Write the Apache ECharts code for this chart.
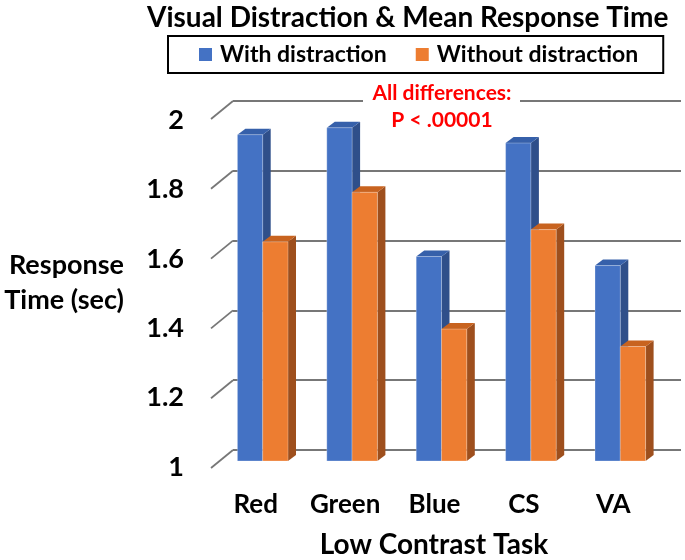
<!DOCTYPE html>
<html>
<head>
<meta charset="utf-8">
<script src="https://cdn.jsdelivr.net/npm/echarts@6/dist/echarts.min.js"></script>
<style>
  html, body { margin: 0; padding: 0; background: #fff; }
  #chart { width: 685px; height: 560px; }
</style>
</head>
<body>
<div id="chart"></div>
<script>
var categories = ["Red", "Green", "Blue", "CS", "VA"];
var withDistraction = [1.935, 1.955, 1.586, 1.911, 1.56];
var withoutDistraction = [1.628, 1.77, 1.378, 1.663, 1.328];
var yTicks = [1, 1.2, 1.4, 1.6, 1.8, 2];

var FONT = "Lato";
var Y_MIN = 1, Y_MAX = 2;
// fake 3d depth of the bars and of the wall
var BAR_DX = 8, BAR_DY = 6;
var WALL_DX = -22, WALL_DY = 18;

var colors = {
  with: { front: "#4472C4", side: "#2F4F8A", top: "#3660AA" },
  without: { front: "#ED7D31", side: "#9E4F1D", top: "#C8631F" }
};

function barRender(left, c) {
  return function (params, api) {
    var cat = api.value(0);
    var top = api.coord([cat, api.value(1)]);
    var base = api.coord([cat, Y_MIN]);
    var w = api.size([1, 0])[0] * 0.283;
    var x0 = left ? top[0] - w : top[0];
    var x1 = x0 + w;
    return {
      type: "group",
      children: [
        { type: "polygon", shape: { points: [[x1, top[1]], [x1 + BAR_DX, top[1] - BAR_DY], [x1 + BAR_DX, base[1] - BAR_DY], [x1, base[1]]] }, style: { fill: c.side } },
        { type: "polygon", shape: { points: [[x0, top[1]], [x0 + BAR_DX, top[1] - BAR_DY], [x1 + BAR_DX, top[1] - BAR_DY], [x1, top[1]]] }, style: { fill: c.top } },
        { type: "rect", shape: { x: x0, y: top[1], width: w, height: base[1] - top[1] }, style: { fill: c.front, stroke: "rgba(255,255,255,0.35)", lineWidth: 0.8 } }
      ]
    };
  };
}

function labelStyle(text, size, align) {
  return {
    text: text, align: align, verticalAlign: "middle",
    fontFamily: FONT, fontWeight: "bold", fontSize: size, fill: "#000"
  };
}

var chart = echarts.init(document.getElementById("chart"));

var option = {
  animation: false,
  textStyle: { fontFamily: FONT },
  title: {
    text: "Visual Distraction & Mean Response Time",
    left: 142, top: -1,
    textStyle: { fontFamily: FONT, fontWeight: "bold", fontSize: 28, color: "#000" }
  },
  legend: {
    left: 168, top: 36,
    padding: [7, 25, 7, 31],
    borderColor: "#000", borderWidth: 2,
    itemWidth: 13, itemHeight: 13, itemGap: 29,
    icon: "rect",
    textStyle: { fontFamily: FONT, fontWeight: "bold", fontSize: 23, color: "#000", padding: [0, 0, 0, 3] },
    data: ["With distraction", "Without distraction"]
  },
  grid: [
    // back wall (gridlines)
    { left: 233, right: 4, top: 101, bottom: 110, outerBoundsMode: "none" },
    // bars plane
    { left: 218, right: 20, top: 112, bottom: 99, outerBoundsMode: "none" },
    // front plane (labels)
    { left: 211, right: 27, top: 120, bottom: 93, outerBoundsMode: "none" }
  ],
  xAxis: [
    { gridIndex: 0, type: "value", min: 0, max: 1, show: false },
    { gridIndex: 1, type: "category", data: categories, show: false },
    { gridIndex: 2, type: "category", data: categories, show: false }
  ],
  yAxis: [
    {
      gridIndex: 0, type: "value", min: Y_MIN, max: Y_MAX, interval: 0.2,
      axisLine: { show: false }, axisTick: { show: false }, axisLabel: { show: false },
      splitLine: { lineStyle: { color: "#777", width: 1.8 } }
    },
    { gridIndex: 1, type: "value", min: Y_MIN, max: Y_MAX, show: false, splitLine: { show: false } },
    { gridIndex: 2, type: "value", min: Y_MIN, max: Y_MAX, interval: 0.2, show: false, splitLine: { show: false } }
  ],
  graphic: [
    {
      type: "text", x: 124, y: 265, z: 10,
      style: {
        text: "Response\nTime (sec)", align: "right", verticalAlign: "top",
        y: -17, fontFamily: FONT, fontWeight: "bold", fontSize: 27, lineHeight: 35, fill: "#000"
      }
    },
    {
      type: "text", x: 434, y: 545, z: 10,
      style: labelStyle("Low Contrast Task", 28, "center")
    },
    {
      type: "rect", x: 363, y: 80, z: 10,
      shape: { width: 157, height: 54 }, style: { fill: "#fff" }
    },
    {
      type: "text", x: 442, y: 80, z: 11,
      style: {
        text: "All differences:\nP < .00001", align: "center", verticalAlign: "top",
        fontFamily: FONT, fontWeight: "bold", fontSize: 21, lineHeight: 27, fill: "#FF0000"
      }
    }
  ],
  series: [
    {
      name: "wall", type: "custom", xAxisIndex: 0, yAxisIndex: 0, silent: true,
      data: yTicks.map(function (v) { return [0, v]; }),
      renderItem: function (params, api) {
        var p = api.coord([0, api.value(1)]);
        return {
          type: "line",
          shape: { x1: p[0], y1: p[1], x2: p[0] + WALL_DX, y2: p[1] + WALL_DY },
          style: { stroke: "#777", lineWidth: 1.8 }
        };
      }
    },
    {
      name: "yLabels", type: "custom", xAxisIndex: 2, yAxisIndex: 2, silent: true,
      data: yTicks.map(function (v) { return [0, v]; }),
      renderItem: function (params, api) {
        var p = api.coord([0, api.value(1)]);
        return {
          type: "text", x: params.coordSys.x - 27, y: p[1],
          style: labelStyle(String(api.value(1)), 27, "right")
        };
      }
    },
    {
      name: "xLabels", type: "custom", xAxisIndex: 2, yAxisIndex: 2, silent: true,
      data: categories.map(function (c, i) { return [i, Y_MIN]; }),
      renderItem: function (params, api) {
        var p = api.coord([api.value(0), Y_MIN]);
        return {
          type: "text", x: p[0], y: p[1] + 38,
          style: labelStyle(categories[params.dataIndex], 26, "center")
        };
      }
    },
    {
      name: "With distraction", type: "custom", xAxisIndex: 1, yAxisIndex: 1,
      itemStyle: { color: colors.with.front },
      data: withDistraction.map(function (v, i) { return [i, v]; }),
      renderItem: barRender(true, colors.with)
    },
    {
      name: "Without distraction", type: "custom", xAxisIndex: 1, yAxisIndex: 1,
      itemStyle: { color: colors.without.front },
      data: withoutDistraction.map(function (v, i) { return [i, v]; }),
      renderItem: barRender(false, colors.without)
    }
  ]
};

chart.setOption(option);
</script>
</body>
</html>
